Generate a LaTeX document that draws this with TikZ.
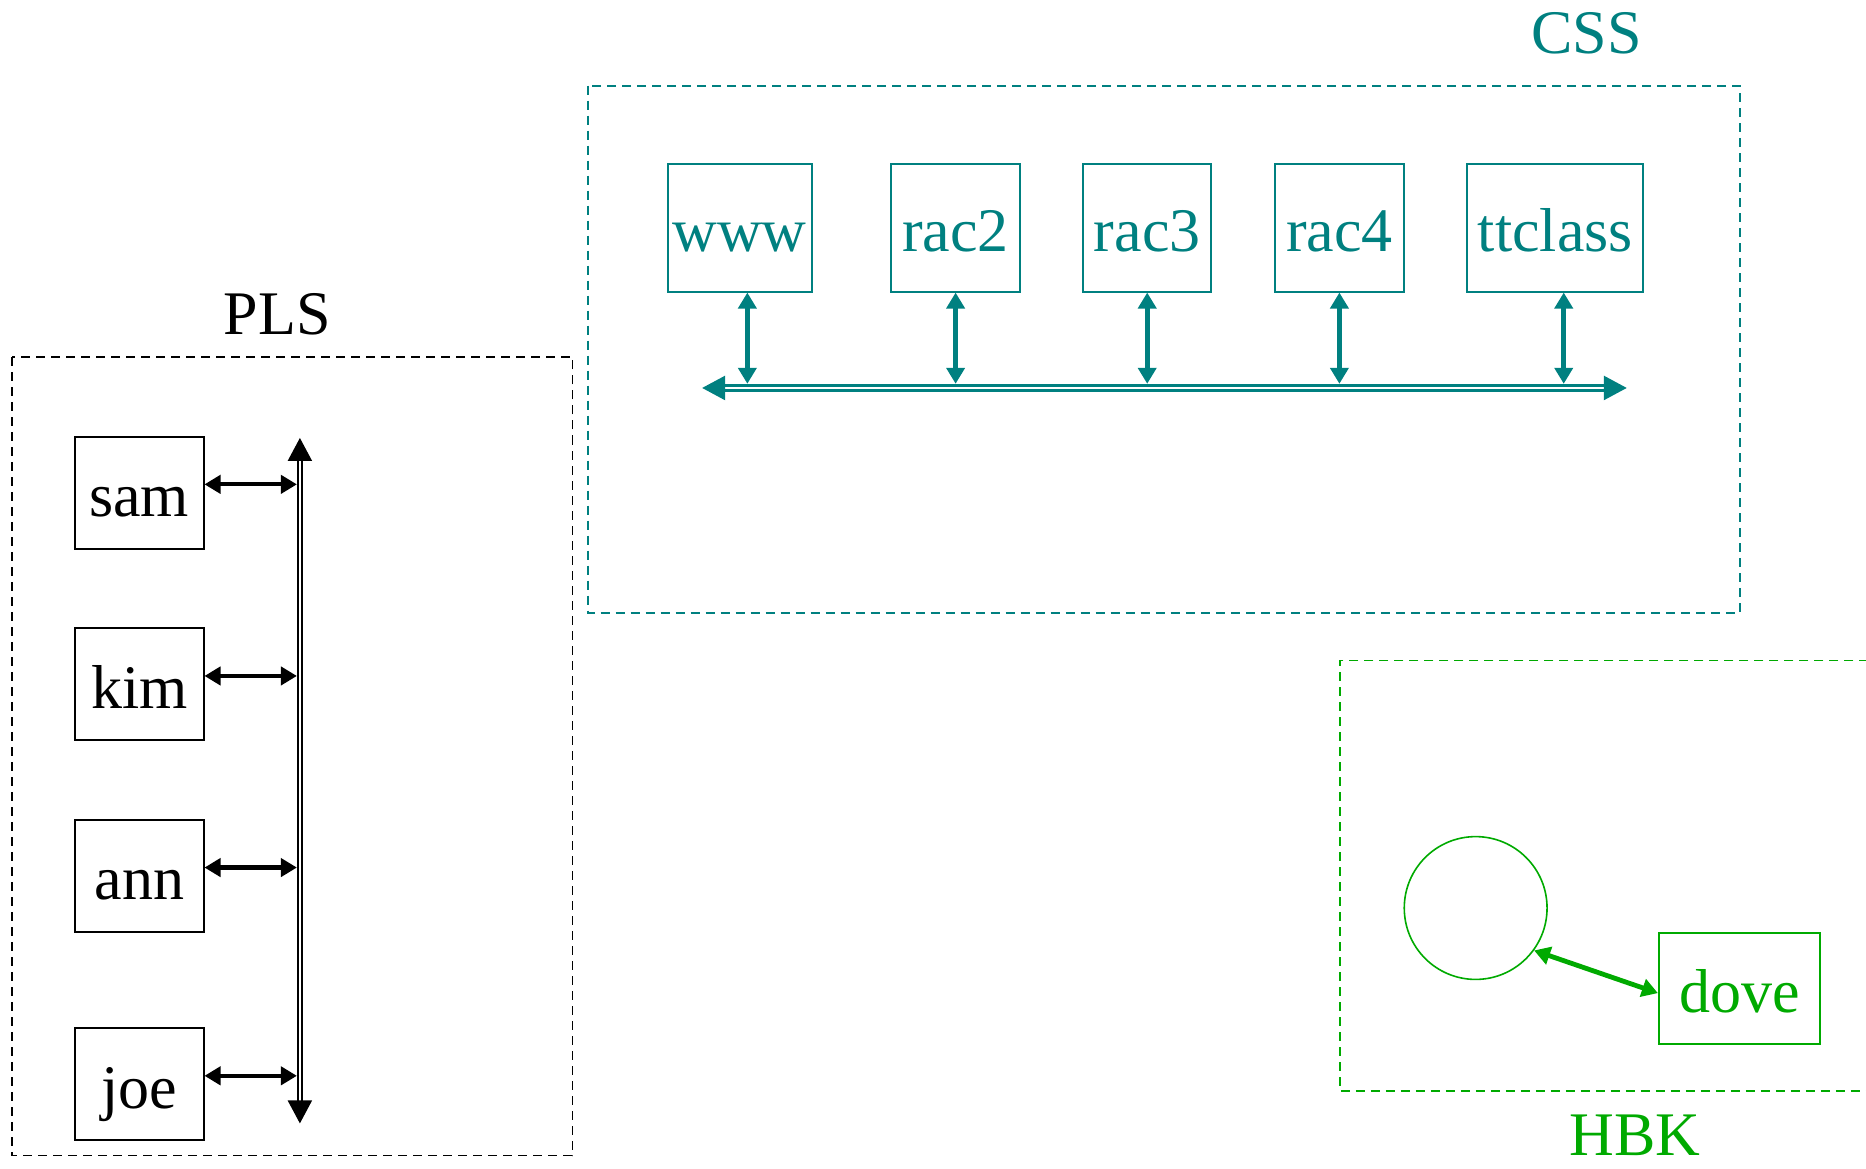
\documentclass[tikz,border=0pt]{standalone}
\usepackage{fontspec}
\setmainfont{Liberation Serif}
\usetikzlibrary{arrows.meta,calc}
\definecolor{cssteal}{RGB}{0,128,128}
\definecolor{hbkgreen}{RGB}{0,170,0}
\begin{document}
\begin{tikzpicture}[x=0.595pt,y=-0.595pt,
  font=\fontsize{31}{37}\selectfont,
  host/.style 2 args={draw,line width=1pt,inner sep=0pt,
    minimum width=#1*0.595pt,minimum height=#2*0.595pt,
    text height=30pt,text depth=6pt},
  title/.style={anchor=base,inner sep=0pt},
  zone/.style={line width=0.85pt,dash pattern=on 4.5pt off 3pt},
  link/.style={line width=2.1pt,
    {Triangle[length=8pt,width=9pt]}-{Triangle[length=8pt,width=9pt]}},
  bus/.style={double,line width=1pt,double distance=1.1pt,
    {Triangle[length=11.5pt,width=12pt]}-{Triangle[length=11.5pt,width=12pt]}},
]
\useasboundingbox (0,0) rectangle (1568,982);

% ---------- PLS segment ----------
\node[title] (plsLabel) at (233,281) {PLS};
\draw[zone] (10,300) rectangle (481,971);
\node[host={108}{94}] (sam) at (117,414) {sam};
\node[host={108}{94}] (kim) at (117,575) {kim};
\node[host={108}{94}] (ann) at (117,736) {ann};
\node[host={108}{94}] (joe) at (117,911) {joe};
\coordinate (plsTop) at (252,368);
\coordinate (plsBot) at (252,944);
\coordinate (plsRail) at (249.5,368);
\draw[bus] (plsTop) -- (plsBot);
\foreach \h in {sam,kim,ann,joe}{
  \coordinate (\h P) at ($(\h.east)+(0,-7)$);
  \draw[link] (\h P) -- (\h P -| plsRail);
}

% ---------- CSS segment ----------
\begin{scope}[cssteal]
\node[title] (cssLabel) at (1333,45) {CSS};
\draw[zone] (494,72) rectangle (1462,515);
\node[host={121}{107}] (www) at (621.5,191.5) {www};
\node[host={108}{107}] (rac2) at (803,191.5) {rac2};
\node[host={108}{107}] (rac3) at (964,191.5) {rac3};
\node[host={109}{107}] (rac4) at (1125.5,191.5) {rac4};
\node[host={148}{107}] (ttclass) at (1307,191.5) {ttclass};
\coordinate (cssL) at (590,326);
\coordinate (cssR) at (1367,326);
\coordinate (cssRail) at (590,322.5);
\draw[bus,line width=1.3pt,double distance=1.2pt] (cssL) -- (cssR);
\foreach \h/\dx in {www/6.5,rac2/0,rac3/0,rac4/0,ttclass/7}{
  \coordinate (\h P) at ($(\h.south)+(\dx,0)$);
  \draw[link,line width=2.3pt] (\h P) -- (\h P |- cssRail);
}
\end{scope}

% ---------- HBK segment ----------
\begin{scope}[hbkgreen]
\draw[zone] (1570,555) -- (1126,555) -- (1126,917) -- (1570,917);
\node[title] (hbkLabel) at (1374,971) {HBK};
\node[draw,circle,line width=0.8pt,inner sep=0pt,minimum size=120*0.595pt] (hub) at (1240,763) {};
\node[host={135}{93}] (dove) at (1461.5,830.5) {dove};
\draw[link,line width=2.4pt] (hub.-36) -- ($(dove.west)+(0,4)$);
\end{scope}
\end{tikzpicture}
\end{document}
